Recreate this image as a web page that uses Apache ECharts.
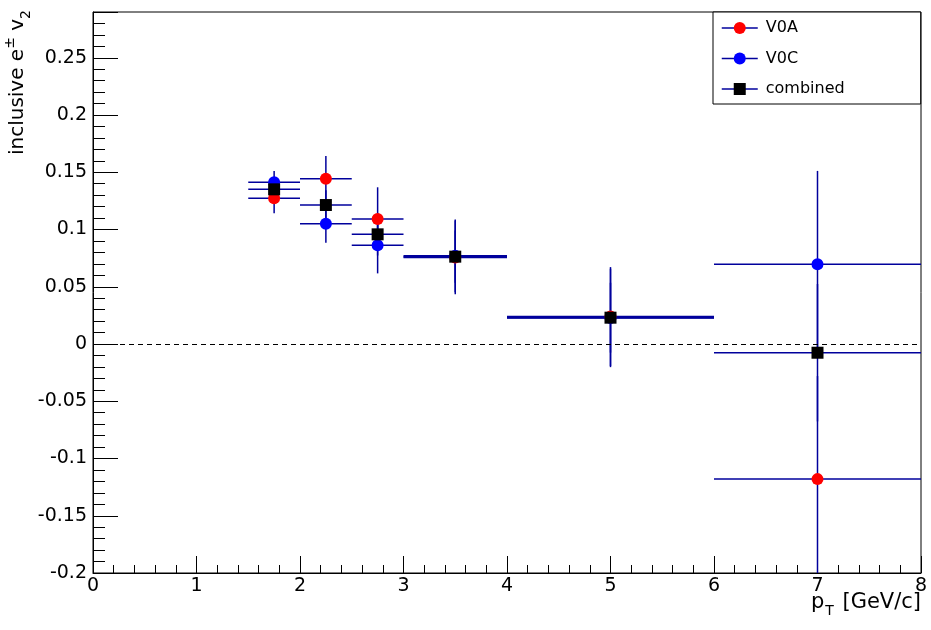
<!DOCTYPE html>
<html>
<head>
	<meta charset="utf-8">
	<title>inclusive e v2</title>
	<style type="text/css">
		body { margin: 0; padding: 0; background: #fff; }
		#main { width: 931px; height: 630px; }
	</style>
	<script src="https://cdn.jsdelivr.net/npm/echarts@6/dist/echarts.min.js"></script>
</head>
<body>
	<div id="main"></div>
	<script type="text/javascript">

	// pT bins (centre and half width)
	var ptCenters = [1.75, 2.25, 2.75, 3.5, 5, 7];
	var ptHalfWidths = [0.25, 0.25, 0.25, 0.5, 1, 1];

	// v2 values and stat errors
	var v0aValues = [0.1273, 0.1444, 0.1092, 0.0756, 0.0240, -0.118];
	var v0aErrors = [0.0131, 0.0198, 0.0277, 0.0322, 0.0432, 0.090];
	var v0cValues = [0.1412, 0.1051, 0.0862, 0.0770, 0.0228, 0.0696];
	var v0cErrors = [0.0099, 0.0166, 0.0245, 0.0318, 0.0430, 0.0816];
	var combinedValues = [0.1351, 0.1214, 0.0958, 0.0763, 0.0230, -0.0076];
	var combinedErrors = [0.0080, 0.0130, 0.0185, 0.0228, 0.0305, 0.060];

	var yTickInterval = 0.05;
	var xTickInterval = 1;

	var barColor = '#00009c';
	var fontName = 'DejaVu Sans';

	function points(values) {
		return ptCenters.map(function (x, i) { return [x, values[i]]; });
	}
	function errorRows(values, errors) {
		return ptCenters.map(function (x, i) { return [x, values[i], ptHalfWidths[i], errors[i]]; });
	}

	// draws the x/y error bars of one set
	function renderErrorBar(params, api) {
		var x = api.value(0), y = api.value(1), dx = api.value(2), dy = api.value(3);
		var l = api.coord([x - dx, y]), r = api.coord([x + dx, y]);
		var t = api.coord([x, y + dy]), b = api.coord([x, y - dy]);
		var st = { stroke: barColor, lineWidth: 1.5 };
		return {
			type: 'group',
			children: [
				{ type: 'line', shape: { x1: l[0], y1: l[1], x2: r[0], y2: r[1] }, style: st },
				{ type: 'line', shape: { x1: t[0], y1: t[1], x2: b[0], y2: b[1] }, style: st }
			]
		};
	}

	function errorSeries(id, values, errors, extra) {
		var s = {
			type: 'custom',
			name: id + ' err',
			data: errorRows(values, errors),
			encode: { x: 0, y: 1 },
			renderItem: renderErrorBar,
			clip: true,
			silent: true,
			z: 2
		};
		if (extra) s.markLine = extra;
		return s;
	}

	function markerSeries(name, values, symbol, color, z) {
		return {
			type: 'line',
			name: name,
			data: points(values),
			symbol: symbol,
			symbolSize: 12,
			showSymbol: true,
			lineStyle: { width: 0, opacity: 0 },
			itemStyle: { color: color, opacity: 1 },
			silent: true,
			z: z
		};
	}

	var tickLabelStyle = { fontFamily: fontName, fontSize: 19, color: '#000' };

	var option = {
		animation: false,
		backgroundColor: '#fff',
		grid: {
			left: 93, right: 10, top: 12, bottom: 57,
			containLabel: false, outerBoundsMode: 'none',
			show: true, borderColor: '#000', borderWidth: 1
		},
		legend: {
			orient: 'vertical',
			left: 713, top: 12,
			data: ['V0A', 'V0C', 'combined'],
			padding: [8, 76, 7, 8],
			itemWidth: 36, itemHeight: 15, itemGap: 14.5,
			backgroundColor: '#fff',
			borderColor: '#000', borderWidth: 1,
			textStyle: { fontFamily: fontName, fontSize: 16, color: '#000', padding: [0, 0, 0, 3] },
			lineStyle: { color: barColor, width: 1.5, opacity: 1, type: 'solid' },
			selectedMode: false
		},
		xAxis: {
			type: 'value', min: 0, max: 8, interval: xTickInterval,
			name: '{p|p}{sub|T}{p| [GeV/c]}',
			nameLocation: 'end', nameGap: 0, nameMoveOverlap: false,
			nameTextStyle: {
				align: 'right', verticalAlign: 'top', padding: [15, 0, 0, 0],
				rich: {
					p: { fontFamily: fontName, fontSize: 21, color: '#000', lineHeight: 30, verticalAlign: 'middle' },
					sub: { fontFamily: fontName, fontSize: 14, color: '#000', lineHeight: 30, verticalAlign: 'bottom', padding: [0, 2, 0, 1] }
				}
			},
			axisLine: { onZero: false, lineStyle: { color: '#000', width: 1 } },
			axisTick: { inside: true, length: 17, lineStyle: { color: '#000' } },
			minorTick: { show: true, splitNumber: 5, length: 8, lineStyle: { color: '#000' } },
			axisLabel: Object.assign({ margin: 4 }, tickLabelStyle),
			splitLine: { show: false }
		},
		yAxis: {
			type: 'value', min: -0.2, max: 0.29, interval: yTickInterval,
			name: '{t|inclusive e}{sup|±}{t| v}{sub|2}',
			nameLocation: 'end', nameGap: 2, nameRotate: 90, nameMoveOverlap: false,
			nameTextStyle: {
				align: 'right', verticalAlign: 'bottom', padding: [0, 0, 60, 0],
				rich: {
					t: { fontFamily: fontName, fontSize: 20, color: '#000', lineHeight: 30, verticalAlign: 'middle' },
					sup: { fontFamily: fontName, fontSize: 14, color: '#000', lineHeight: 30, verticalAlign: 'top' },
					sub: { fontFamily: fontName, fontSize: 14, color: '#000', lineHeight: 30, verticalAlign: 'bottom' }
				}
			},
			axisLine: { onZero: false, lineStyle: { color: '#000', width: 1 } },
			axisTick: { inside: true, length: 25, lineStyle: { color: '#000' } },
			minorTick: { show: true, splitNumber: 5, length: 12, lineStyle: { color: '#000' } },
			axisLabel: Object.assign({ margin: 6, showMaxLabel: false }, tickLabelStyle),
			splitLine: { show: false }
		},
		series: [
			markerSeries('V0A', v0aValues, 'circle', '#ff0000', 5),
			markerSeries('V0C', v0cValues, 'circle', '#0000ff', 6),
			markerSeries('combined', combinedValues, 'rect', '#000000', 7),
			errorSeries('V0A', v0aValues, v0aErrors, {
				silent: true, symbol: 'none',
				label: { show: false },
				lineStyle: { color: '#000', type: [5, 4], width: 1 },
				data: [{ yAxis: 0 }]
			}),
			errorSeries('V0C', v0cValues, v0cErrors),
			errorSeries('combined', combinedValues, combinedErrors)
		]
	};

	var myChart = echarts.init(document.getElementById('main'));
	myChart.setOption(option);

	</script>
</body>
</html>
